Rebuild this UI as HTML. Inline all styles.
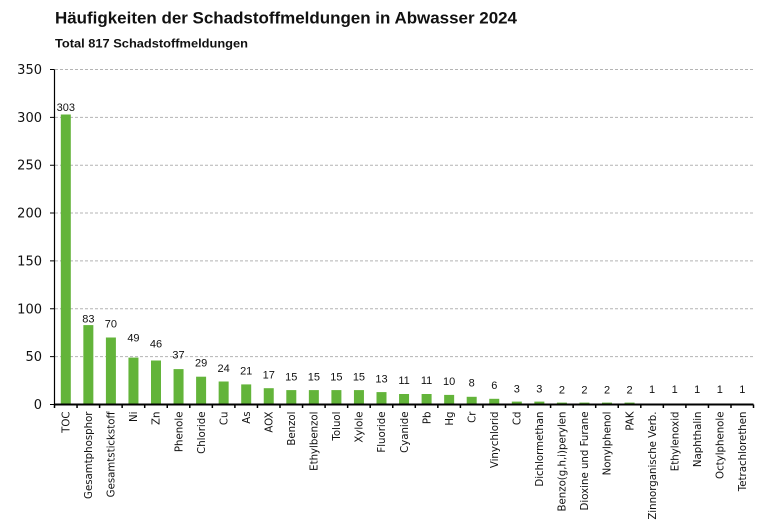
<!DOCTYPE html>
<html>
<head>
<meta charset="utf-8">
<style>
html,body{margin:0;padding:0;background:#fff;}
svg{display:block;}
</style>
</head>
<body>
<svg width="773" height="532" viewBox="0 0 773 532" xmlns="http://www.w3.org/2000/svg">
<rect width="773" height="532" fill="#fff"/>
<text x="55" y="23.5" font-family="Liberation Sans, sans-serif" font-weight="bold" font-size="16.5" fill="#111" textLength="462" lengthAdjust="spacingAndGlyphs">Häufigkeiten der Schadstoffmeldungen in Abwasser 2024</text>
<text x="55" y="47.5" font-family="Liberation Sans, sans-serif" font-weight="bold" font-size="12" fill="#111" textLength="193" lengthAdjust="spacingAndGlyphs">Total 817 Schadstoffmeldungen</text>

<g stroke="#b4b4b4" stroke-width="1" stroke-dasharray="3,2">
<line x1="55" y1="69.5" x2="755" y2="69.5"/>
<line x1="55" y1="117.34" x2="755" y2="117.34"/>
<line x1="55" y1="165.2" x2="755" y2="165.2"/>
<line x1="55" y1="213.06" x2="755" y2="213.06"/>
<line x1="55" y1="260.92" x2="755" y2="260.92"/>
<line x1="55" y1="308.78" x2="755" y2="308.78"/>
<line x1="55" y1="356.64" x2="755" y2="356.64"/>
</g>

<g font-family="DejaVu Sans, sans-serif" font-size="13" fill="#111" text-anchor="end">
<text x="42" y="74">350</text>
<text x="42" y="121.8">300</text>
<text x="42" y="169.7">250</text>
<text x="42" y="217.5">200</text>
<text x="42" y="265.4">150</text>
<text x="42" y="313.3">100</text>
<text x="42" y="361.1">50</text>
<text x="42" y="409">0</text>
</g>

<g fill="#63b43a">
<rect x="60.8" y="114.5" width="10" height="290"/>
<rect x="83.35" y="325.1" width="10" height="79.4"/>
<rect x="105.9" y="337.5" width="10" height="67"/>
<rect x="128.45" y="357.6" width="10" height="46.9"/>
<rect x="151" y="360.5" width="10" height="44"/>
<rect x="173.55" y="369.1" width="10" height="35.4"/>
<rect x="196.1" y="376.7" width="10" height="27.8"/>
<rect x="218.65" y="381.5" width="10" height="23"/>
<rect x="241.2" y="384.4" width="10" height="20.1"/>
<rect x="263.75" y="388.2" width="10" height="16.3"/>
<rect x="286.3" y="390.1" width="10" height="14.4"/>
<rect x="308.85" y="390.1" width="10" height="14.4"/>
<rect x="331.4" y="390.1" width="10" height="14.4"/>
<rect x="353.95" y="390.1" width="10" height="14.4"/>
<rect x="376.5" y="392.1" width="10" height="12.4"/>
<rect x="399.05" y="394" width="10" height="10.5"/>
<rect x="421.6" y="394" width="10" height="10.5"/>
<rect x="444.15" y="394.9" width="10" height="9.6"/>
<rect x="466.7" y="396.8" width="10" height="7.7"/>
<rect x="489.25" y="398.8" width="10" height="5.7"/>
<rect x="511.8" y="401.6" width="10" height="2.9"/>
<rect x="534.35" y="401.6" width="10" height="2.9"/>
<rect x="556.9" y="402.6" width="10" height="1.9"/>
<rect x="579.45" y="402.6" width="10" height="1.9"/>
<rect x="602" y="402.6" width="10" height="1.9"/>
<rect x="624.55" y="402.6" width="10" height="1.9"/>
<rect x="647.1" y="403.5" width="10" height="1"/>
<rect x="669.65" y="403.5" width="10" height="1"/>
<rect x="692.2" y="403.5" width="10" height="1"/>
<rect x="714.75" y="403.5" width="10" height="1"/>
<rect x="737.3" y="403.5" width="10" height="1"/>
</g>

<g font-family="Liberation Sans, sans-serif" font-size="11" fill="#111" text-anchor="middle">
<text x="65.8" y="111">303</text>
<text x="88.35" y="322.7">83</text>
<text x="110.9" y="327.7">70</text>
<text x="133.45" y="341.7">49</text>
<text x="156" y="347.7">46</text>
<text x="178.55" y="358.3">37</text>
<text x="201.1" y="366.7">29</text>
<text x="223.65" y="372">24</text>
<text x="246.2" y="374.7">21</text>
<text x="268.75" y="378.3">17</text>
<text x="291.3" y="380.3">15</text>
<text x="313.85" y="380.3">15</text>
<text x="336.4" y="380.3">15</text>
<text x="358.95" y="380.3">15</text>
<text x="381.5" y="382.3">13</text>
<text x="404.05" y="384">11</text>
<text x="426.6" y="384">11</text>
<text x="449.15" y="385">10</text>
<text x="471.7" y="386.7">8</text>
<text x="494.25" y="389">6</text>
<text x="516.8" y="392.3">3</text>
<text x="539.35" y="392.3">3</text>
<text x="561.9" y="393.3">2</text>
<text x="584.45" y="393.3">2</text>
<text x="607" y="393.3">2</text>
<text x="629.55" y="393.3">2</text>
<text x="652.1" y="393">1</text>
<text x="674.65" y="393">1</text>
<text x="697.2" y="393">1</text>
<text x="719.75" y="393">1</text>
<text x="742.3" y="393">1</text>
</g>

<g stroke="#000" fill="none">
<line x1="54.5" y1="69.5" x2="54.5" y2="405" stroke-width="1.2"/>
<path stroke-width="1" d="M50 69.5H54.5M50 117.34H54.5M50 165.2H54.5M50 213.06H54.5M50 260.92H54.5M50 308.78H54.5M50 356.64H54.5M50 404.5H54.5"/>
<line x1="54" y1="404.5" x2="753.5" y2="404.5" stroke-width="2"/>
<path stroke-width="1.5" d="M54.5 404.5V408M77.05 404.5V408M99.6 404.5V408M122.15 404.5V408M144.7 404.5V408M167.25 404.5V408M189.8 404.5V408M212.35 404.5V408M234.9 404.5V408M257.45 404.5V408M280 404.5V408M302.55 404.5V408M325.1 404.5V408M347.65 404.5V408M370.2 404.5V408M392.75 404.5V408M415.3 404.5V408M437.85 404.5V408M460.4 404.5V408M482.95 404.5V408M505.5 404.5V408M528.05 404.5V408M550.6 404.5V408M573.15 404.5V408M595.7 404.5V408M618.25 404.5V408M640.8 404.5V408M663.35 404.5V408M685.9 404.5V408M708.45 404.5V408M731 404.5V408M753.5 404.5V408"/>
</g>

<g font-family="DejaVu Sans, sans-serif" font-size="10.2" fill="#111" text-anchor="end">
<text transform="translate(69.5,411.5) rotate(-90)">TOC</text>
<text transform="translate(92.05,411.5) rotate(-90)">Gesamtphosphor</text>
<text transform="translate(114.6,411.5) rotate(-90)">Gesamtstickstoff</text>
<text transform="translate(137.15,411.5) rotate(-90)">Ni</text>
<text transform="translate(159.7,411.5) rotate(-90)">Zn</text>
<text transform="translate(182.25,411.5) rotate(-90)">Phenole</text>
<text transform="translate(204.8,411.5) rotate(-90)">Chloride</text>
<text transform="translate(227.35,411.5) rotate(-90)">Cu</text>
<text transform="translate(249.9,411.5) rotate(-90)">As</text>
<text transform="translate(272.45,411.5) rotate(-90)">AOX</text>
<text transform="translate(295,411.5) rotate(-90)">Benzol</text>
<text transform="translate(317.55,411.5) rotate(-90)">Ethylbenzol</text>
<text transform="translate(340.1,411.5) rotate(-90)">Toluol</text>
<text transform="translate(362.65,411.5) rotate(-90)">Xylole</text>
<text transform="translate(385.2,411.5) rotate(-90)">Fluoride</text>
<text transform="translate(407.75,411.5) rotate(-90)">Cyanide</text>
<text transform="translate(430.3,411.5) rotate(-90)">Pb</text>
<text transform="translate(452.85,411.5) rotate(-90)">Hg</text>
<text transform="translate(475.4,411.5) rotate(-90)">Cr</text>
<text transform="translate(497.95,411.5) rotate(-90)">Vinychlorid</text>
<text transform="translate(520.5,411.5) rotate(-90)">Cd</text>
<text transform="translate(543.05,411.5) rotate(-90)">Dichlormethan</text>
<text transform="translate(565.6,411.5) rotate(-90)">Benzo(g,h,i)perylen</text>
<text transform="translate(588.15,411.5) rotate(-90)">Dioxine und Furane</text>
<text transform="translate(610.7,411.5) rotate(-90)">Nonylphenol</text>
<text transform="translate(633.25,411.5) rotate(-90)">PAK</text>
<text transform="translate(655.8,411.5) rotate(-90)">Zinnorganische Verb.</text>
<text transform="translate(678.35,411.5) rotate(-90)">Ethylenoxid</text>
<text transform="translate(700.9,411.5) rotate(-90)">Naphthalin</text>
<text transform="translate(723.45,411.5) rotate(-90)">Octylphenole</text>
<text transform="translate(746,411.5) rotate(-90)">Tetrachlorethen</text>
</g>
</svg>
</body>
</html>
